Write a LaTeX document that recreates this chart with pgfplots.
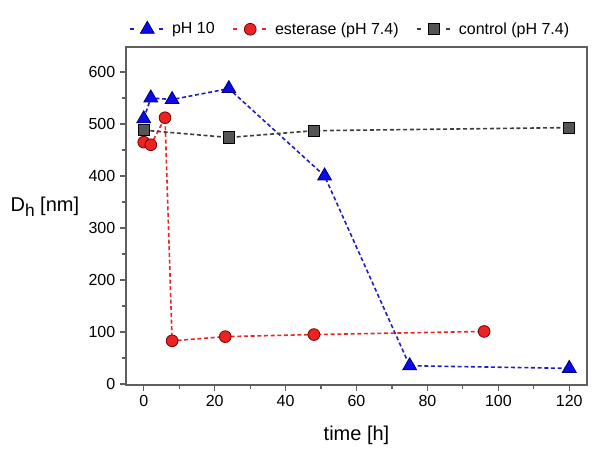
\documentclass[border=0pt]{standalone}
\usepackage{pgfplots}
\pgfplotsset{compat=1.18}
\usepackage{fontspec}
\setmainfont{Liberation Sans}
\definecolor{tblue}{RGB}{10,10,235}
\definecolor{tblueedge}{RGB}{0,0,110}
\definecolor{lblue}{RGB}{30,30,190}
\definecolor{cred}{RGB}{235,35,35}
\definecolor{credge}{RGB}{120,0,0}
\definecolor{lred}{RGB}{230,40,40}
\definecolor{sgray}{RGB}{85,85,85}
\definecolor{lgray}{RGB}{60,60,60}
\definecolor{frame}{RGB}{95,95,95}
\begin{document}
\begin{tikzpicture}[x=0.75pt,y=0.75pt]
\useasboundingbox (-126,-72) rectangle (476,385);
\begin{axis}[
  at={(0,0)}, anchor=south west,
  scale only axis, width=345.75pt, height=253.5pt,
  xmin=-5, xmax=125, ymin=-2, ymax=648,
  xtick={0,20,...,120}, minor xtick={10,30,...,110},
  ytick={0,100,...,600}, minor ytick={50,150,...,550},
  tick align=outside, xtick pos=bottom, ytick pos=left,
  major tick length=4.5pt, minor tick length=3pt,
  axis line style={frame, line width=1.1pt},
  every tick/.style={frame, line width=0.9pt},
  /pgf/number format/assume math mode=true,
  tick label style={font=\fontsize{12}{14}\selectfont, text=black},
  xlabel={time [h]},
  ylabel={D\raisebox{-0.45ex}{\fontsize{13}{14}\selectfont h} [nm]},
  label style={font=\fontsize{15}{17}\selectfont},
  xlabel style={at={(axis description cs:0.5,-0.148)}, anchor=center},
  ylabel style={at={(axis description cs:-0.176,0.527)}, rotate=-90, anchor=center},
  legend columns=3,
  legend style={at={(axis description cs:0.487,1)}, anchor=south, yshift=4pt,
    draw=none, fill=none, font=\fontsize{12}{14}\selectfont,
    /tikz/every even column/.append style={column sep=11pt}},
  legend cell align=left,
  legend image code/.code={
    \draw[#1, solid, mark=none] (0pt,0pt) -- (3pt,0pt);
    \draw[#1, solid, mark=none] (22pt,0pt) -- (25pt,0pt);
    \draw[#1] plot coordinates {(13pt,0pt)};
    \path (29pt,0pt);
  },
]
\addplot[lblue, line width=1.2pt, dash pattern=on 3pt off 2pt,
  mark=triangle*, mark size=6pt,
  mark options={solid, fill=tblue, draw=tblueedge, line width=0.6pt}]
  coordinates {(0,510) (2,550) (8,547) (24,568) (51,400) (75,35) (120,30)};
\addlegendentry{pH 10}
\addplot[lred, line width=1.2pt, dash pattern=on 3pt off 2pt,
  mark=*, mark size=4.4pt,
  mark options={solid, fill=cred, draw=credge, line width=0.6pt}]
  coordinates {(0,465) (2,460) (6,512) (8,83) (23,91) (48,95) (96,101)};
\addlegendentry{esterase (pH 7.4)}
\addplot[lgray, line width=1.2pt, dash pattern=on 3pt off 2pt,
  mark=square*, mark size=4.2pt,
  mark options={solid, fill=sgray, draw=black, line width=0.6pt}]
  coordinates {(0,488) (24,474) (48,487) (120,493)};
\addlegendentry{control (pH 7.4)}
\end{axis}
\end{tikzpicture}
\end{document}
